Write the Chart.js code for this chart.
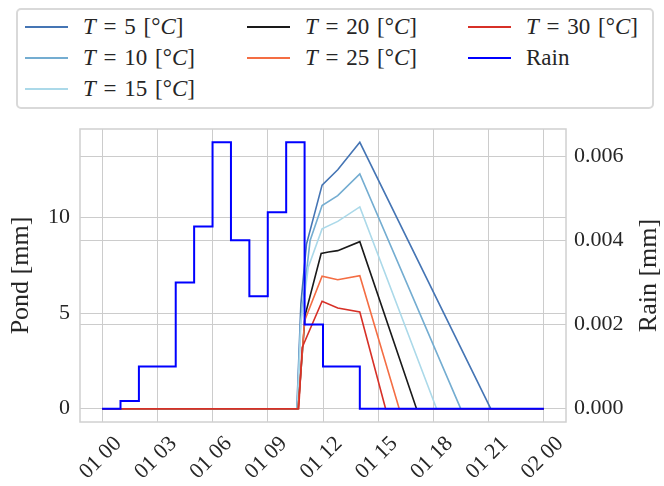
<!DOCTYPE html>
<html>
<head>
<meta charset="utf-8">
<script src="https://cdn.jsdelivr.net/npm/chart.js@4.4.1/dist/chart.umd.min.js"></script>
<style>
  body { margin: 0; background: #fff; }
  #wrap { position: relative; width: 664px; height: 486px; }
  #chart { position: absolute; left: 0; top: 0; }
  #legend {
    position: absolute; left: 16px; top: 8px; width: 634px; height: 97px;
    border: 2px solid #d9d9d9; border-radius: 5px; background: #fff;
    font-family: "Liberation Serif", serif; font-size: 23px; color: #262626;
  }
  .item { position: absolute; height: 30px; display: flex; align-items: center; white-space: nowrap; word-spacing: 2px; }
  .swatch { width: 43px; height: 2px; margin-right: 15px; }
</style>
</head>
<body>
<div id="wrap">
  <canvas id="chart" width="664" height="486"></canvas>
  <div id="legend"></div>
</div>
<script>
// time axis (hours since 01 00)
var hourTicks = [0, 3, 6, 9, 12, 15, 18, 21, 24];
var hourLabels = ["01 00", "01 03", "01 06", "01 09", "01 12", "01 15", "01 18", "01 21", "02 00"];
var pondTicks = [0, 5, 10];
var rainTicks = [0, 0.002, 0.004, 0.006];

// rain per hour
var rainHours = [0, 1, 2, 3, 4, 5, 6, 7, 8, 9, 10, 11, 12, 13, 14, 15, 16, 17, 18, 19, 20, 21, 22, 23, 24];
var rainValues = [0, 0.00018, 0.001, 0.001, 0.003, 0.00433, 0.00633, 0.004, 0.00267, 0.00467, 0.00633,
  0.002, 0.001, 0.001, 0, 0, 0, 0, 0, 0, 0, 0, 0, 0, 0];

// pond depth for each temperature
var t5Hours = [0, 10.58, 10.8, 11.1, 11.95, 12.8, 14, 21.11, 24];
var t5Pond = [0, 0, 5.5, 8.6, 11.7, 12.5, 13.94, 0, 0];
var t10Hours = [0, 10.6, 10.78, 11.3, 11.95, 12.8, 14, 19.48, 24];
var t10Pond = [0, 0, 4.5, 8.8, 10.63, 11.15, 12.29, 0, 0];
var t15Hours = [0, 10.6, 10.8, 11.2, 11.95, 12.8, 14, 18.17, 24];
var t15Pond = [0, 0, 4.5, 7.4, 9.41, 9.8, 10.56, 0, 0];
var t20Hours = [0, 10.65, 11.03, 11.9, 12.3, 12.8, 14, 17.08, 24];
var t20Pond = [0, 0, 4.9, 8.12, 8.2, 8.27, 8.74, 0, 0];
var t25Hours = [0, 10.65, 11.0, 11.95, 12.8, 14, 16.14, 24];
var t25Pond = [0, 0, 4.6, 6.93, 6.75, 6.96, 0, 0];
var t30Hours = [0, 10.68, 10.87, 11.95, 12.8, 14, 15.4, 24];
var t30Pond = [0, 0, 3.2, 5.62, 5.27, 5.06, 0, 0];

var seriesNames = ["<i>T</i> = 5 [°<i>C</i>]", "<i>T</i> = 10 [°<i>C</i>]", "<i>T</i> = 15 [°<i>C</i>]",
  "<i>T</i> = 20 [°<i>C</i>]", "<i>T</i> = 25 [°<i>C</i>]", "<i>T</i> = 30 [°<i>C</i>]", "Rain"];
var seriesColors = ["#4575b4", "#74add1", "#abd9e9", "#1a1a1a", "#f46d43", "#d73027", "#0000ff"];

function toPoints(xs, ys) {
  return xs.map(function (x, i) { return { x: x, y: ys[i] }; });
}

var pondSets = [[t5Hours, t5Pond], [t10Hours, t10Pond], [t15Hours, t15Pond],
  [t20Hours, t20Pond], [t25Hours, t25Pond], [t30Hours, t30Pond]];

var datasets = pondSets.map(function (s, i) {
  return {
    label: seriesNames[i],
    data: toPoints(s[0], s[1]),
    borderColor: seriesColors[i],
    borderWidth: 1.6,
    yAxisID: "yPond",
    order: 6 - i
  };
});
datasets.push({
  label: "Rain",
  data: toPoints(rainHours, rainValues),
  borderColor: seriesColors[6],
  borderWidth: 2,
  stepped: true,
  yAxisID: "yRain",
  order: 0
});

var textColor = "#262626";
var gridColor = "#cccccc";
var tickFont = { family: "Liberation Serif", size: 22 };

var frameAndTitle = {
  id: "frameAndTitle",
  afterDatasetsDraw: function (chart) {
    var ctx = chart.ctx, a = chart.chartArea;
    ctx.save();
    ctx.strokeStyle = "#d0d0d0";
    ctx.lineWidth = 1.5;
    ctx.strokeRect(a.left, a.top, a.right - a.left, a.bottom - a.top);
    ctx.restore();
  },
  afterDraw: function (chart) {
    var ctx = chart.ctx, a = chart.chartArea;
    ctx.save();
    ctx.translate(chart.width - 15, (a.top + a.bottom) / 2);
    ctx.rotate(-Math.PI / 2);
    ctx.font = '26px "Liberation Serif"';
    ctx.fillStyle = textColor;
    ctx.textAlign = "center";
    ctx.textBaseline = "middle";
    ctx.fillText("Rain [mm]", 0, 0);
    ctx.restore();
  }
};

new Chart(document.getElementById("chart").getContext("2d"), {
  type: "line",
  data: { datasets: datasets },
  plugins: [frameAndTitle],
  options: {
    responsive: false,
    animation: false,
    layout: { padding: { top: 129, left: 0, right: 0, bottom: 0 } },
    elements: { point: { radius: 0 }, line: { tension: 0 } },
    plugins: { legend: { display: false }, tooltip: { enabled: false } },
    scales: {
      x: {
        type: "linear",
        min: -1.2,
        max: 25.2,
        afterBuildTicks: function (scale) {
          scale.ticks = hourTicks.map(function (v) { return { value: v }; });
        },
        afterFit: function (scale) { scale.height = 64; },
        grid: { color: gridColor, drawTicks: false },
        border: { display: false },
        ticks: {
          autoSkip: false,
          minRotation: 45,
          maxRotation: 45,
          labelOffset: 16,
          padding: 9,
          color: textColor,
          font: tickFont,
          callback: function (v) { return hourLabels[hourTicks.indexOf(v)]; }
        }
      },
      yPond: {
        type: "linear",
        position: "left",
        min: -0.697,
        max: 14.637,
        afterBuildTicks: function (scale) {
          scale.ticks = pondTicks.map(function (v) { return { value: v }; });
        },
        afterFit: function (scale) { scale.width = 80; },
        grid: { color: gridColor, drawTicks: false },
        border: { display: false },
        ticks: { padding: 10, color: textColor, font: tickFont },
        title: {
          display: true,
          text: "Pond [mm]",
          color: textColor,
          font: { family: "Liberation Serif", size: 26, lineHeight: 1.2 },
          padding: { top: 6, bottom: 0 }
        }
      },
      yRain: {
        type: "linear",
        position: "right",
        min: -0.000317,
        max: 0.006647,
        afterBuildTicks: function (scale) {
          scale.ticks = rainTicks.map(function (v) { return { value: v }; });
        },
        afterFit: function (scale) { scale.width = 98; },
        grid: { color: gridColor, drawTicks: false },
        border: { display: false },
        ticks: {
          padding: 8,
          color: textColor,
          font: tickFont,
          callback: function (v) { return v.toFixed(3); }
        }
      }
    }
  }
});

// legend: matplotlib style, 3 columns filled column by column
var legendCols = [7, 229, 450];
var legendRows = [17, 48, 79];
var legendOrder = [[0, 1, 2], [3, 4], [5, 6]];
var legend = document.getElementById("legend");
legendOrder.forEach(function (col, c) {
  col.forEach(function (idx, r) {
    var item = document.createElement("div");
    item.className = "item";
    item.style.left = legendCols[c] + "px";
    item.style.top = (legendRows[r] - 15) + "px";
    item.innerHTML = '<span class="swatch" style="background:' + seriesColors[idx] + '"></span><span>' +
      seriesNames[idx] + "</span>";
    legend.appendChild(item);
  });
});
</script>
</body>
</html>
